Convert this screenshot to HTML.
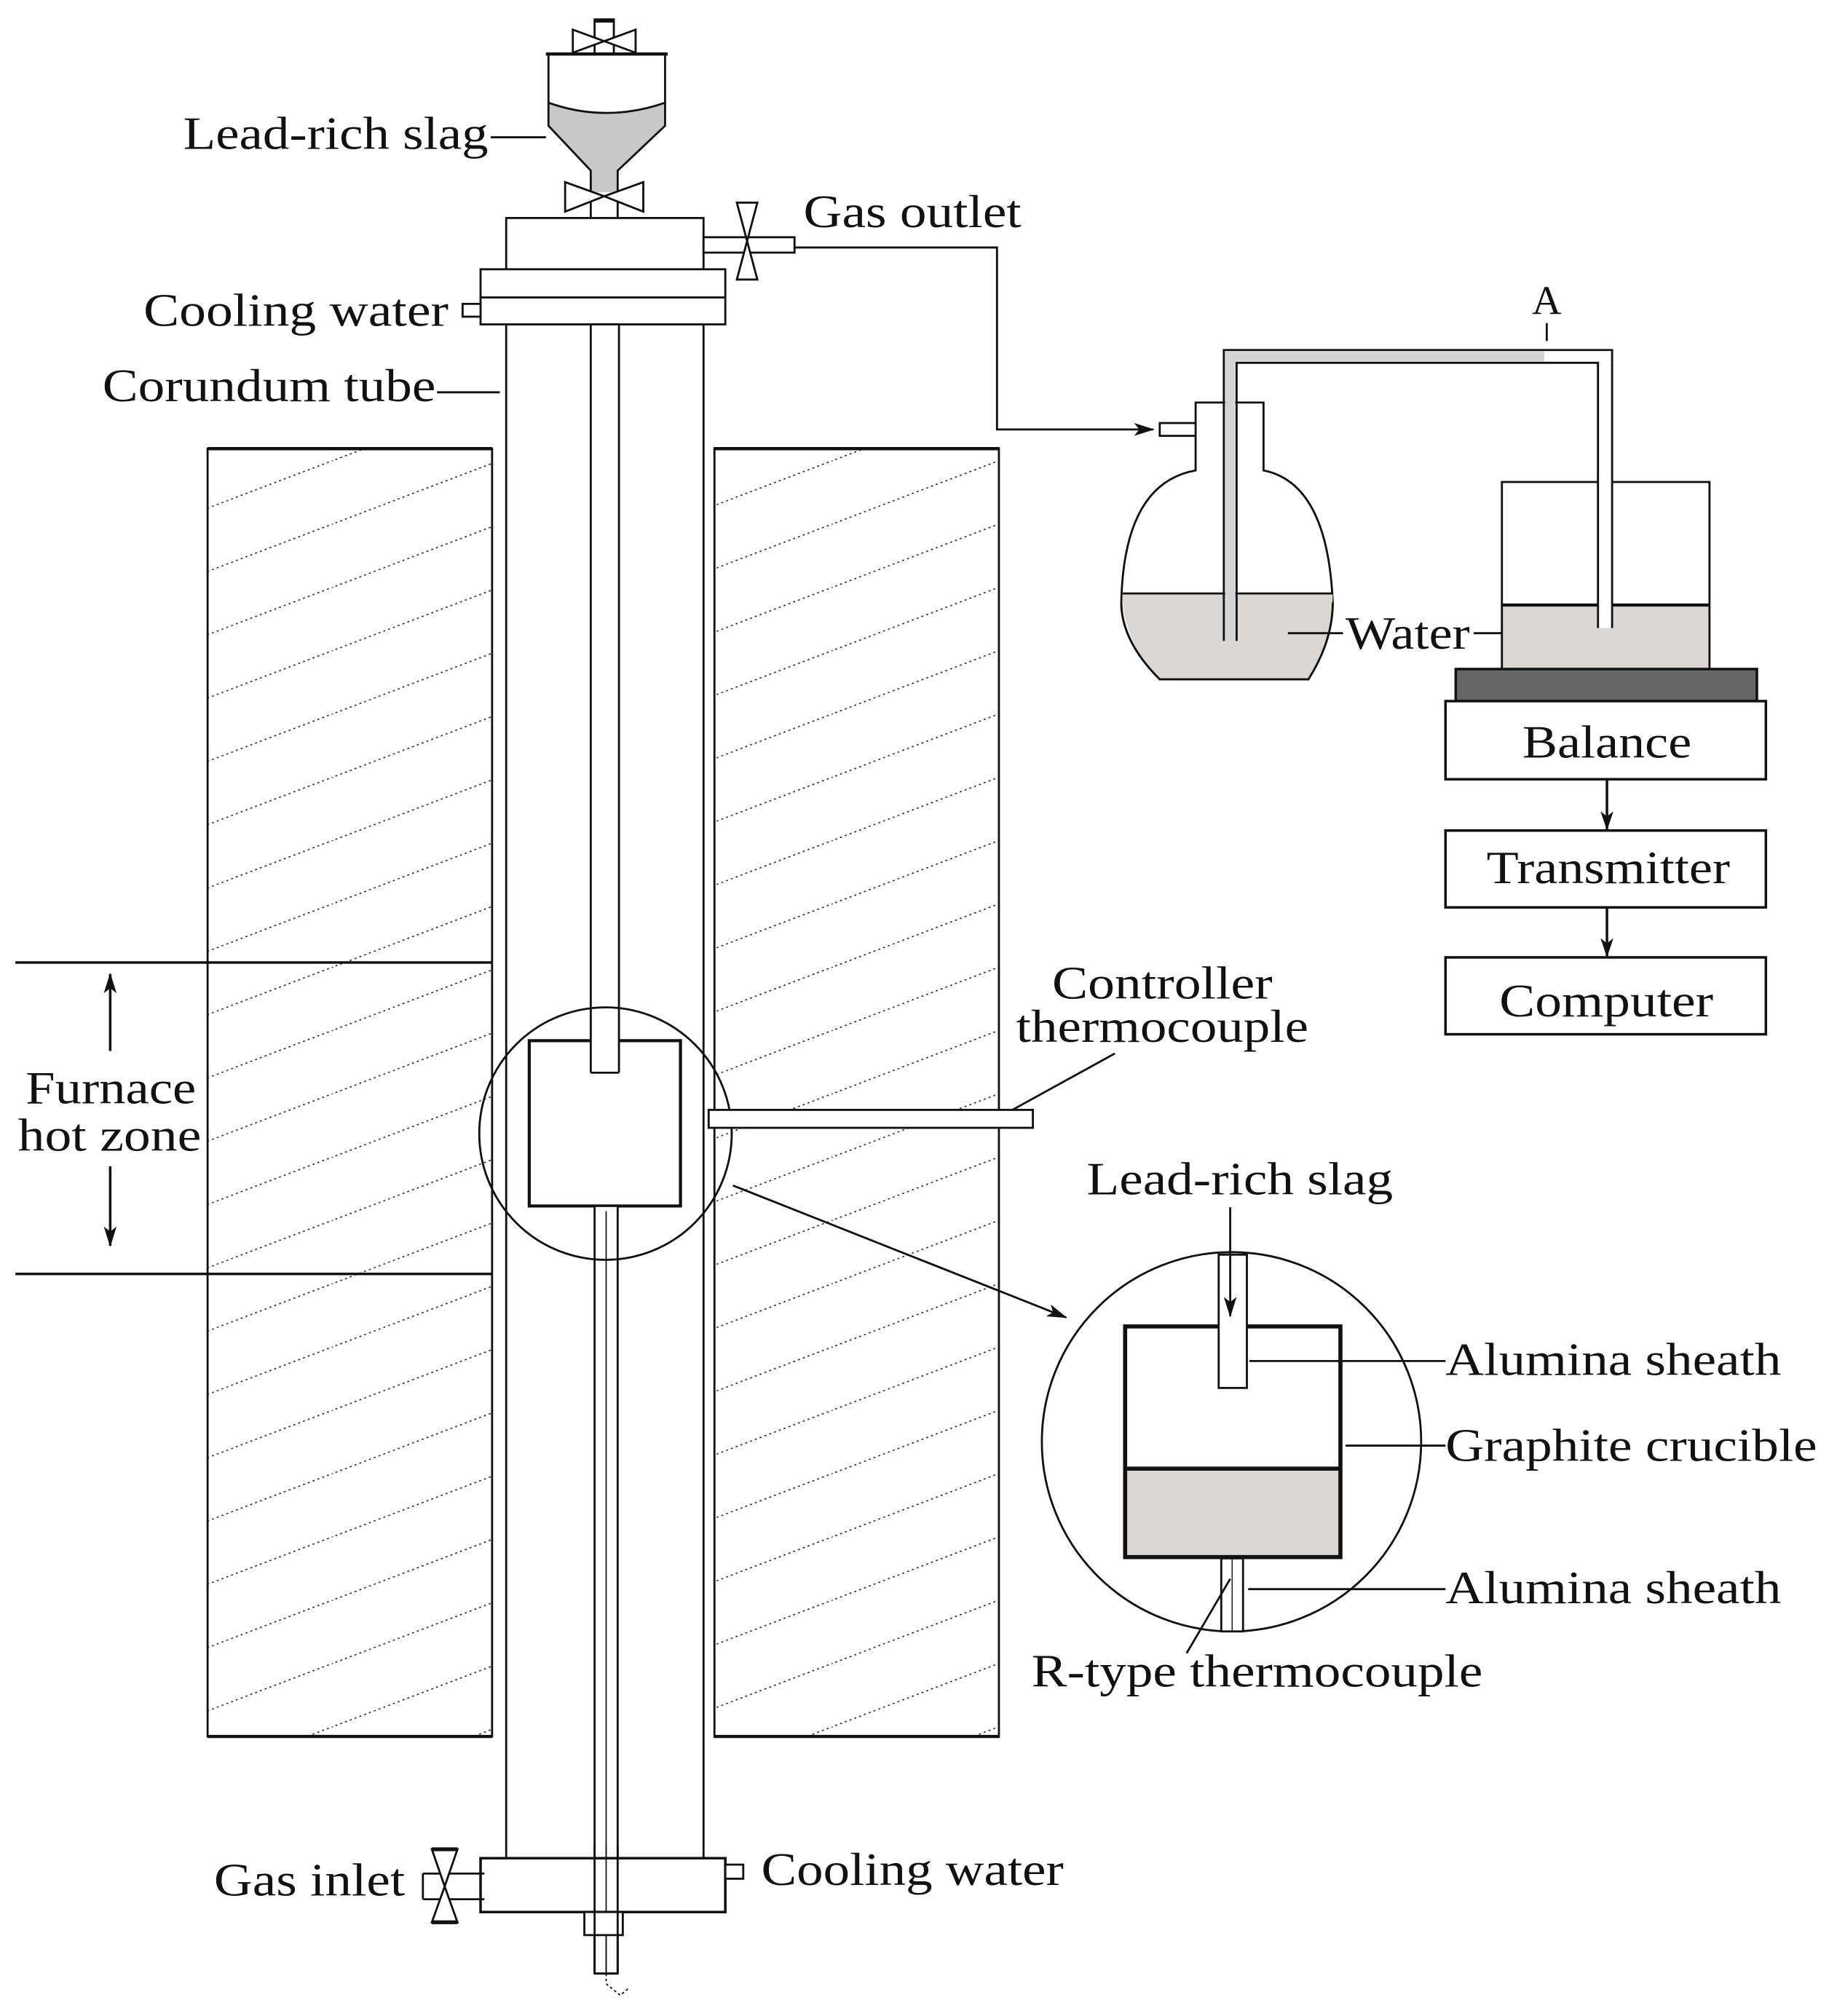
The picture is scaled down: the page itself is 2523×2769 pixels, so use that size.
<!DOCTYPE html>
<html><head><meta charset="utf-8"><style>
html,body{margin:0;padding:0;background:#fff;}
svg{display:block;}
text{font-family:"Liberation Serif",serif;fill:#111;}
</style></head><body>
<svg width="2523" height="2769" viewBox="0 0 1433.5 1573" xmlns="http://www.w3.org/2000/svg">
<defs>
<pattern id="hatch" patternUnits="userSpaceOnUse" x="0" y="-36" width="130" height="49.4">
<line x1="-2" y1="50.16" x2="132" y2="-0.76" stroke="#222" stroke-width="0.9" stroke-dasharray="1.6 2.4"/>
</pattern>
<marker id="ah" markerWidth="12" markerHeight="16" refX="14" refY="6" orient="auto" markerUnits="userSpaceOnUse">
<path d="M0,1 L15,6 L0,11 L4,6 Z" fill="#111"/>
</marker>
<marker id="ah2" markerWidth="16" markerHeight="12" refX="15" refY="6" orient="auto" markerUnits="userSpaceOnUse">
<path d="M0,1 L16,6 L0,11 L4,6 Z" fill="#111"/>
</marker>
</defs>
<g fill="none" stroke="#111" stroke-width="1.6">

<rect x="162" y="350" width="222" height="1005" fill="url(#hatch)"/>
<rect x="557.5" y="350" width="222" height="1005" fill="url(#hatch)"/>
<line x1="162" y1="350" x2="384" y2="350" stroke-width="2.5"/>
<line x1="557" y1="350" x2="780" y2="350" stroke-width="2.5"/>
<line x1="162" y1="1355" x2="384" y2="1355" stroke-width="2.5"/>
<line x1="557" y1="1355" x2="780" y2="1355" stroke-width="2.5"/>

<line x1="12" y1="751" x2="384" y2="751" stroke-width="2"/>
<line x1="12" y1="994" x2="384" y2="994" stroke-width="2"/>
<line x1="86" y1="820" x2="86" y2="760" stroke-width="2" marker-end="url(#ah2)"/>
<line x1="86" y1="910" x2="86" y2="972" stroke-width="2" marker-end="url(#ah2)"/>

<rect x="395" y="253" width="154" height="1197" fill="#fff"/>
<rect x="395" y="170" width="154" height="40" fill="#fff"/>
<rect x="375" y="210" width="191" height="43" fill="#fff"/>
<line x1="375" y1="232" x2="566" y2="232"/>
<rect x="361" y="237" width="14" height="10" fill="#fff"/>
<rect x="461" y="253" width="22" height="584" fill="#fff"/>
<rect x="413" y="812" width="118" height="129" stroke-width="2.4" fill="#fff"/>
<rect x="461" y="790" width="22" height="47" fill="#fff" stroke="none"/>
<line x1="461" y1="790" x2="461" y2="837"/><line x1="483" y1="790" x2="483" y2="837"/><line x1="461" y1="837" x2="483" y2="837"/>
<rect x="464" y="941" width="18" height="599" fill="#fff"/>
<line x1="473" y1="945" x2="473" y2="1540" stroke-width="1"/>
<circle cx="472.5" cy="884.5" r="98.5"/>
<rect x="553" y="866" width="253" height="14" fill="#fff"/>
<line x1="790" y1="866" x2="870" y2="822"/>
<line x1="572" y1="925" x2="832" y2="1028" marker-end="url(#ah2)"/>

<rect x="375" y="1450" width="191" height="42" fill="#fff" stroke-width="2"/>
<line x1="464" y1="1440" x2="464" y2="1540"/><line x1="482" y1="1440" x2="482" y2="1540"/>
<line x1="473" y1="1440" x2="473" y2="1540" stroke-width="1"/>
<rect x="456" y="1492" width="30" height="18" fill="#fff"/>
<line x1="464" y1="1492" x2="464" y2="1540"/><line x1="482" y1="1492" x2="482" y2="1540"/><line x1="464" y1="1540" x2="482" y2="1540"/>
<path d="M473,1540 L473,1548 L484,1557 L490,1552" stroke-width="1" stroke-dasharray="2 2"/>
<rect x="566" y="1455" width="14" height="11" fill="#fff"/>
<line x1="330" y1="1462" x2="378" y2="1462"/><line x1="330" y1="1482" x2="378" y2="1482"/><line x1="330" y1="1462" x2="330" y2="1482"/>
<path d="M337,1443 L357,1443 L347,1472 Z M337,1500 L357,1500 L347,1472 Z" fill="#fff"/>
<line x1="337" y1="1443" x2="357" y2="1443" stroke-width="3"/><line x1="337" y1="1500" x2="357" y2="1500" stroke-width="3"/>

<!-- hopper -->
<rect x="464" y="15" width="15" height="27" fill="#fff"/>
<line x1="464" y1="16" x2="479" y2="16" stroke-width="3"/>
<path d="M447,23 L447,41 L471.5,32 Z M496,23 L496,41 L471.5,32 Z" fill="#fff"/>
<path d="M428,80 Q473,96 519,80 L519,98 L482,133 L482,150 L461,150 L461,133 L428,98 Z" fill="#c8c8c8" stroke="none"/>
<path d="M428,42 L519,42 L519,98 L482,133 L482,170"/>
<path d="M428,42 L428,98 L461,133 L461,170"/>
<line x1="426" y1="42" x2="521" y2="42" stroke-width="2.5"/>
<path d="M428,80 Q473,96 519,80"/>
<path d="M441,142 L441,165 L471.5,153 Z M502,142 L502,165 L471.5,153 Z" fill="#fff"/>
<line x1="383" y1="107" x2="426" y2="107"/>

<!-- gas outlet -->
<rect x="549" y="185" width="71" height="12" fill="#fff"/>
<path d="M575,158 L591,158 L583,188 Z M575,218 L591,218 L583,188 Z" fill="#fff"/>
<path d="M620,193 L778,193 L778,335 L900,335" marker-end="url(#ah2)"/>

<!-- flask -->
<path d="M933,330 L933,314 L986,314 L986,367 Q1036,377 1040,470 Q1040,500 1021,530 L905,530 Q875,500 875,470 Q877,377 933,367 L933,340" fill="#fff"/>
<path d="M876,463 L1040,463 Q1040,500 1021,530 L905,530 Q876,500 876,463 Z" fill="#d9d6d4" stroke="none"/>
<line x1="876" y1="463" x2="1040" y2="463"/>
<path d="M1040,470 Q1040,500 1021,530 L905,530 Q875,500 875,470"/>
<rect x="905" y="330" width="28" height="10" fill="#fff"/>
<path d="M955,500 L955,273 L1258,273 L1258,490"/>
<path d="M965,500 L965,283 L1247,283 L1247,490"/>
<path d="M956,274 L1205,274 L1205,282 L964,282 L964,500 L956,500 Z" fill="#d4d4d4" stroke="none"/>
<line x1="1207" y1="252" x2="1207" y2="266"/>
<line x1="1005" y1="494" x2="1048" y2="494"/>
<line x1="1150" y1="494" x2="1197" y2="494"/>
<rect x="1172" y="472" width="162" height="50" fill="#d9d6d4" stroke="none"/>
<rect x="1172" y="376" width="162" height="146"/>
<line x1="1172" y1="472" x2="1334" y2="472" stroke-width="2.4"/>
<rect x="1247" y="283" width="11" height="207" fill="#fff" stroke="none"/>
<line x1="1247" y1="283" x2="1247" y2="490"/><line x1="1258" y1="283" x2="1258" y2="490"/>
<rect x="1136" y="522" width="235" height="25" fill="#666" stroke-width="2"/>
<rect x="1128" y="547" width="250" height="61" fill="#fff" stroke-width="2"/>
<rect x="1128" y="648" width="250" height="60" fill="#fff" stroke-width="2"/>
<rect x="1128" y="747" width="250" height="60" fill="#fff" stroke-width="2"/>
<line x1="1254" y1="608" x2="1254" y2="647" stroke-width="2" marker-end="url(#ah)"/>
<line x1="1254" y1="708" x2="1254" y2="746" stroke-width="2" marker-end="url(#ah)"/>

<!-- detail -->
<circle cx="961" cy="1125" r="148" fill="#fff"/>
<rect x="878" y="1146" width="168" height="69" fill="#d9d6d4" stroke="none"/>
<rect x="878" y="1035" width="168" height="180" stroke-width="3.2"/>
<line x1="878" y1="1146" x2="1046" y2="1146" stroke-width="3.2"/>
<rect x="951" y="979" width="22" height="104" fill="#fff"/>
<line x1="960" y1="942" x2="960" y2="1027" marker-end="url(#ah2)"/>
<rect x="953" y="1216" width="17" height="57" fill="#fff"/>
<line x1="961.5" y1="1216" x2="961.5" y2="1273" stroke-width="0.8"/>
<line x1="975" y1="1062" x2="1128" y2="1062"/>
<line x1="1050" y1="1128" x2="1128" y2="1128"/>
<line x1="974" y1="1240" x2="1128" y2="1240"/>
<line x1="960" y1="1232" x2="926" y2="1290"/>
<line x1="341" y1="306" x2="390" y2="306"/>
</g>

<g font-size="36">
<text x="143" y="116" textLength="238" lengthAdjust="spacingAndGlyphs">Lead-rich slag</text>
<text x="627" y="177" textLength="170" lengthAdjust="spacingAndGlyphs">Gas outlet</text>
<text x="112" y="254" textLength="238" lengthAdjust="spacingAndGlyphs">Cooling water</text>
<text x="80" y="313" textLength="260" lengthAdjust="spacingAndGlyphs">Corundum tube</text>
<text x="20" y="861" textLength="133" lengthAdjust="spacingAndGlyphs">Furnace</text>
<text x="14" y="898" textLength="143" lengthAdjust="spacingAndGlyphs">hot zone</text>
<text x="821" y="779" textLength="172" lengthAdjust="spacingAndGlyphs">Controller</text>
<text x="793" y="813" textLength="228" lengthAdjust="spacingAndGlyphs">thermocouple</text>
<text x="1050" y="506" textLength="97" lengthAdjust="spacingAndGlyphs">Water</text>
<text x="1207" y="245" text-anchor="middle" font-size="32">A</text>
<text x="1188" y="591" textLength="132" lengthAdjust="spacingAndGlyphs">Balance</text>
<text x="1160" y="689" textLength="190" lengthAdjust="spacingAndGlyphs">Transmitter</text>
<text x="1170" y="793" textLength="167" lengthAdjust="spacingAndGlyphs">Computer</text>
<text x="848" y="932" textLength="239" lengthAdjust="spacingAndGlyphs">Lead-rich slag</text>
<text x="1128" y="1073" textLength="262" lengthAdjust="spacingAndGlyphs">Alumina sheath</text>
<text x="1128" y="1140" textLength="290" lengthAdjust="spacingAndGlyphs">Graphite crucible</text>
<text x="1128" y="1251" textLength="262" lengthAdjust="spacingAndGlyphs">Alumina sheath</text>
<text x="805" y="1316" textLength="352" lengthAdjust="spacingAndGlyphs">R-type thermocouple</text>
<text x="167" y="1479" textLength="149" lengthAdjust="spacingAndGlyphs">Gas inlet</text>
<text x="594" y="1471" textLength="236" lengthAdjust="spacingAndGlyphs">Cooling water</text>
</g>
</svg>
</body></html>
